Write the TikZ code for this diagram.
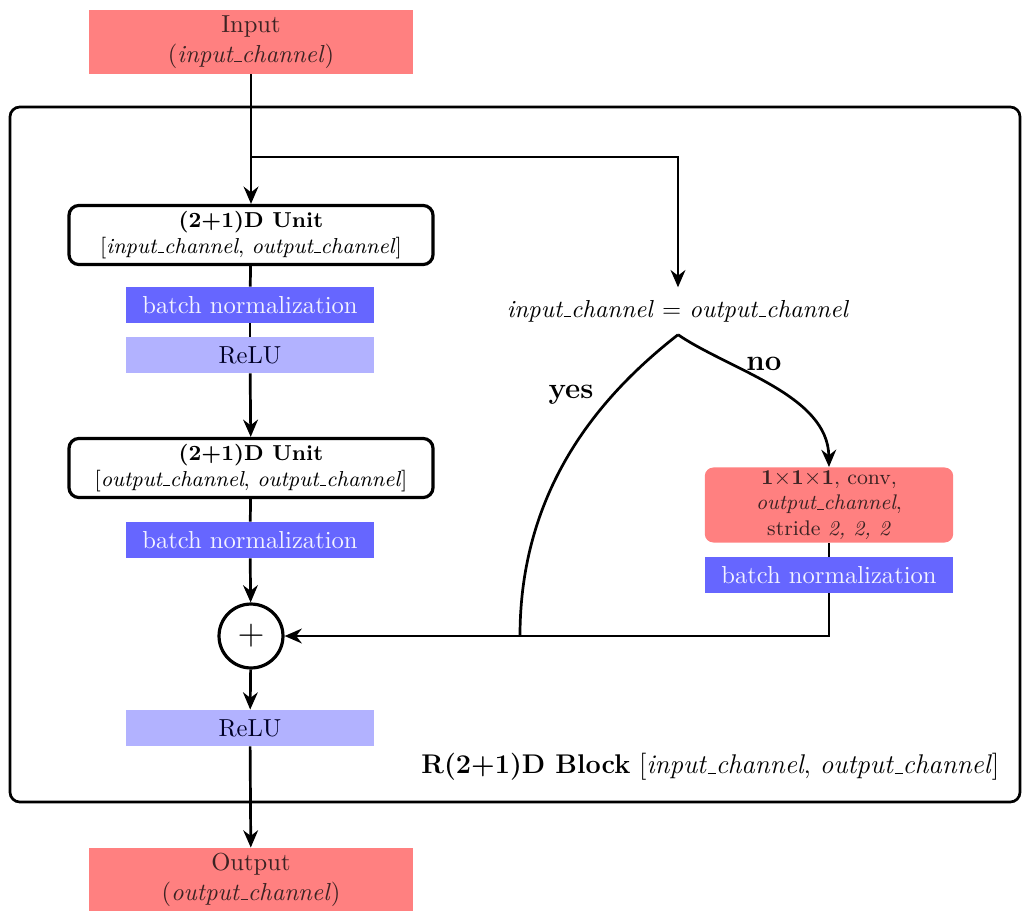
\documentclass[tikz,border=0pt]{standalone}
\usetikzlibrary{arrows.meta,positioning,calc}
\definecolor{inred}{RGB}{255,128,128}
\definecolor{bnblue}{RGB}{102,102,255}
\definecolor{relublue}{RGB}{178,178,255}
\definecolor{darktext}{RGB}{60,35,35}
\newcommand\usc{\leavevmode\kern.06em\vbox{\hrule width.3em}}
\begin{document}
\begin{tikzpicture}[x=0.4066pt,y=-0.4066pt,
  >={Stealth[length=7pt,width=6pt]},
  line/.style={line width=1.1pt},
  iobox/.style={fill=inred,minimum width=132pt,minimum height=26pt,
                align=center,text=darktext,inner sep=1pt},
  unitbox/.style={draw,line width=1.3pt,rounded corners=4pt,fill=white,
                  minimum width=148pt,minimum height=24pt,align=center,
                  inner sep=1pt,font=\fontsize{8.8}{10.6}\selectfont},
  bnbox/.style={fill=bnblue,minimum width=101pt,minimum height=14.6pt,
                inner sep=0pt,text=white!92!bnblue},
  relubox/.style={fill=relublue,minimum width=101pt,minimum height=14.6pt,
                  inner sep=0pt,text=black!85!blue},
  convbox/.style={fill=inred,rounded corners=3.5pt,minimum width=101pt,
                  minimum height=30.5pt,inner sep=0pt,align=center,
                  font=\fontsize{8.6}{10.4}\selectfont,text=darktext},
  addnode/.style={draw,circle,line width=1.3pt,fill=white,
                  minimum size=26pt,inner sep=0pt,font=\Large}
]
  \useasboundingbox (0,0) rectangle (1023,911);
  % block frame
  \draw[line,rounded corners=4pt] (10,107) rectangle (1020,802);
  \node[anchor=east,font=\fontsize{11}{13.6}\selectfont] (blocklabel) at (1008,767)
    {\textbf{R(2+1)D Block} [\textit{input\usc channel}, \textit{output\usc channel}]};

  \node[iobox] (in) at (251,42) {Input\\(\textit{input\usc channel})};
  \node[unitbox] (u1) at (251,235)
    {\textbf{(2+1)D Unit}\\{}[\textit{input\usc channel}, \textit{output\usc channel}]};
  \node[bnbox] (bn1) at (250,305) {batch normalization};
  \node[relubox] (relu1) at (250,355) {ReLU};
  \node[unitbox] (u2) at (251,468)
    {\textbf{(2+1)D Unit}\\{}[\textit{output\usc channel}, \textit{output\usc channel}]};
  \node[bnbox] (bn2) at (250,540) {batch normalization};
  \node[addnode] (plus) at (251,636) {$+$};
  \node[relubox] (relu2) at (250,728) {ReLU};
  \node[iobox] (out) at (251,880) {Output\\(\textit{output\usc channel})};

  % shortcut branch
  \coordinate (split) at (251,157);
  \node[inner sep=5pt] (cond) at (678,311)
    {\textit{input\usc channel} = \textit{output\usc channel}};
  \node[convbox] (conv) at (829,505)
    {\textbf{1$\times$1$\times$1}, conv,\\\textit{output\usc channel},\\stride \textit{2, 2, 2}};
  \node[bnbox] (bn3) at (829,575) {batch normalization};
  \coordinate (join) at (520,636);
  \node[font=\large\bfseries] (yes) at (571,395) {yes};
  \node[font=\large\bfseries] (no) at (764,364) {no};

  \draw[line,->] (in) -- (u1);
  \draw[line,->] (split) -| (cond);
  \draw[line] (u1) -- (bn1);
  \draw[line] (bn1) -- (relu1);
  \draw[line,->] (relu1) -- (u2);
  \draw[line] (u2) -- (bn2);
  \draw[line,->] (bn2) -- (plus);
  \draw[line,->] (plus) -- (relu2);
  \draw[line,->] (relu2) -- (out);
  \draw[line,->] (cond.south) .. controls (730,370) and (828,395) .. (conv.north);
  \draw[line] (cond.south) .. controls (610,388) and (520,480) .. (join);
  \draw[line] (conv) -- (bn3);
  \draw[line,->] (bn3) |- (plus);
\end{tikzpicture}
\end{document}
